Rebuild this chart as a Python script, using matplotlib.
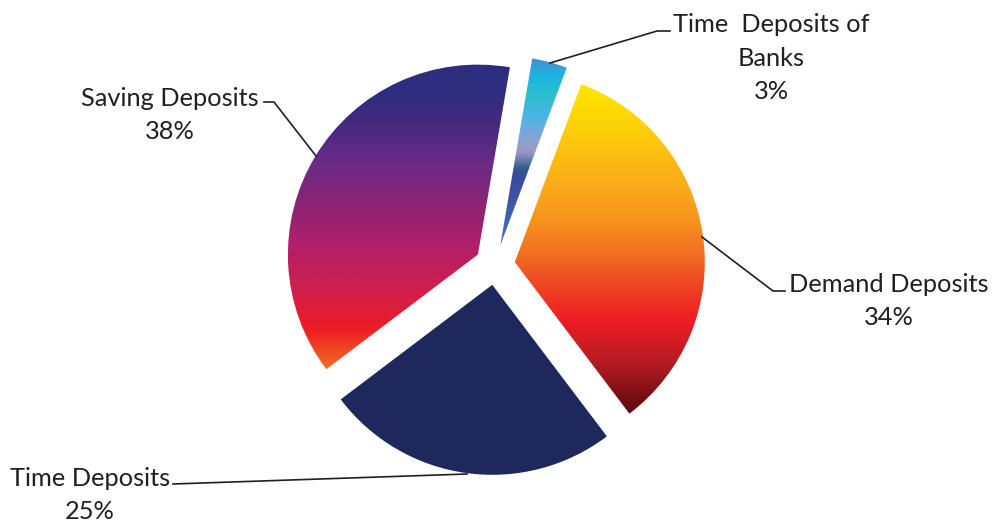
import matplotlib.pyplot as plt
from matplotlib.colors import LinearSegmentedColormap
import numpy as np

# Data (share of deposits, %)
categories = ['Time  Deposits of\nBanks', 'Demand Deposits', 'Time Deposits', 'Saving Deposits']
shares = [3, 34, 25, 38]

# Vertical gradients (top -> bottom) for each slice; None means solid
gradients = [
    [(0.0, '#4a8ccc'), (0.09, '#1cb5e2'), (0.2, '#2dbfcb'), (0.3, '#45b6e6'),
     (0.43, '#86a5d6'), (0.5, '#9c98c8'), (0.59, '#2f5c8c'), (0.64, '#3b48a0'),
     (0.79, '#4058a8'), (1.0, '#3e78c0')],
    [(0.0, '#ffe800'), (0.13, '#fdd007'), (0.3, '#fbac1a'), (0.41, '#f7941d'),
     (0.52, '#f26c22'), (0.61, '#ef4524'), (0.72, '#ed1c24'), (0.84, '#b81c23'),
     (1.0, '#5a0a0c')],
    None,
    [(0.0, '#2e2d7e'), (0.09, '#2e2d7e'), (0.2, '#45297f'), (0.31, '#672b88'),
     (0.44, '#862577'), (0.58, '#ae1f6c'), (0.74, '#d01f4e'), (0.87, '#ec1c24'),
     (1.0, '#f36f21')],
]
solid_color = '#1f285c'
text_color = '#231f20'

W, H = 993, 523
fig = plt.figure(figsize=(W / 100, H / 100), dpi=100)
ax = fig.add_axes([0, 0, 1, 1])


def py(y):
    # pixel row (from top) -> data y
    return H - y


wedges, _ = ax.pie(shares, explode=[20] * len(shares), startangle=80.3,
                   counterclock=False, radius=190, center=(495, py(265)),
                   colors=[solid_color] * len(shares),
                   wedgeprops=dict(linewidth=0))
ax.set_xlim(0, W)
ax.set_ylim(0, H)
ax.set_aspect('auto')
ax.axis('off')

# gradient fills clipped to wedges
for wedge, stops in zip(wedges, gradients):
    if stops is None:
        continue
    cmap = LinearSegmentedColormap.from_list('g', stops)
    bb = wedge.get_path().get_extents()
    grad = np.linspace(0, 1, 512).reshape(-1, 1)
    wedge.set_facecolor('none')
    im = ax.imshow(grad, cmap=cmap, aspect='auto', origin='upper',
                   extent=[bb.x0, bb.x1, bb.y0, bb.y1], interpolation='bilinear')
    im.set_clip_path(wedge)

# labels and leader lines
label_pos = [(771, 58), (889, 301), (90, 495), (170, 115)]
leaders = [
    [(550, 63), (657, 31), (670, 31)],
    [(702, 237), (773, 291), (785, 291)],
    [(173, 484), (467, 474)],
    [(264, 102), (274, 102), (316, 156)],
]
for name, val, (lx, ly), pts in zip(categories, shares, label_pos, leaders):
    ax.text(lx, py(ly), f'{name}\n{val}%', ha='center', va='center',
            multialignment='center', fontsize=18.3, family='Lato',
            color=text_color, linespacing=1.56)
    xs = [p[0] for p in pts]
    ys = [py(p[1]) for p in pts]
    ax.plot(xs, ys, color=text_color, lw=1.2)

fig.savefig('out.png', dpi=100)
